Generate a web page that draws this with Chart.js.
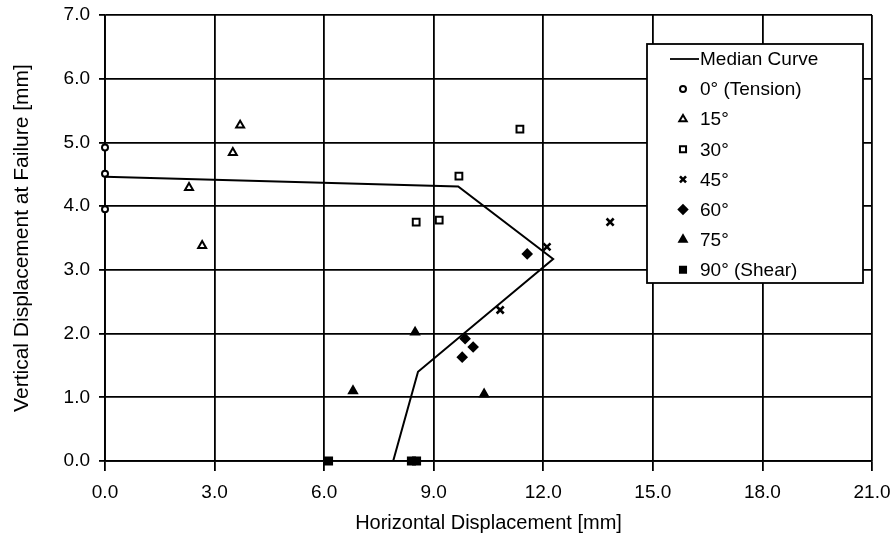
<!DOCTYPE html>
<html>
<head>
<meta charset="utf-8">
<script src="https://cdn.jsdelivr.net/npm/chart.js@4"></script>
<style>
  html, body { margin: 0; padding: 0; background: #fff; }
  #wrap { width: 895px; height: 540px; }
</style>
</head>
<body>
<div id="wrap"><canvas id="dispChart"></canvas></div>
<script>
// values, [mm]
var medianX = [0, 9.67, 12.27, 8.57, 7.89];
var medianY = [4.46, 4.31, 3.17, 1.40, 0];

var deg0X = [0, 0, 0];
var deg0Y = [4.92, 4.51, 3.95];

var deg15X = [3.70, 3.50, 2.30, 2.66];
var deg15Y = [5.27, 4.84, 4.29, 3.38];

var deg30X = [11.36, 9.69, 8.52, 9.15];
var deg30Y = [5.21, 4.47, 3.75, 3.78];

var deg45X = [13.83, 12.10, 10.82];
var deg45Y = [3.75, 3.36, 2.37];

var deg60X = [11.56, 9.86, 10.08, 9.78];
var deg60Y = [3.25, 1.92, 1.79, 1.63];

var deg75X = [6.79, 10.38, 8.49];
var deg75Y = [1.10, 1.05, 2.02];

var deg90X = [6.12, 8.39, 8.53];
var deg90Y = [0, 0, 0];

var xTicks = [0, 3, 6, 9, 12, 15, 18, 21];
var yTicks = [0, 1, 2, 3, 4, 5, 6, 7];

function pts(xs, ys) {
    return xs.map((x, i) => ({ x: x, y: ys[i] }));
}

var FONT = "'Liberation Sans', Arial, Helvetica, sans-serif";

function markerSet(label, xs, ys, style, radius, filled, bw) {
    return {
        label: label,
        data: pts(xs, ys),
        showLine: false,
        clip: false,
        pointStyle: style,
        pointRadius: radius,
        pointHoverRadius: radius,
        pointBackgroundColor: filled ? '#000' : '#fff',
        pointBorderColor: '#000',
        pointBorderWidth: bw || 2
    };
}

// legend drawn inside the plot, like the original figure
var boxLegend = {
    id: 'boxLegend',
    afterDatasetsDraw(chart) {
        var ctx = chart.ctx;
        var left = 647, top = 44, w = 216, h = 239;
        ctx.save();
        ctx.fillStyle = '#fff';
        ctx.fillRect(left, top, w, h);
        ctx.strokeStyle = '#000';
        ctx.lineWidth = 1.8;
        ctx.strokeRect(left, top, w, h);
        ctx.font = '19px ' + FONT;
        ctx.textBaseline = 'middle';
        ctx.textAlign = 'left';
        chart.data.datasets.forEach((ds, i) => {
            var y = 59 + i * 30.1;
            if (ds.showLine) {
                ctx.strokeStyle = '#000';
                ctx.lineWidth = 1.8;
                ctx.beginPath();
                ctx.moveTo(670, y);
                ctx.lineTo(699, y);
                ctx.stroke();
            } else {
                ctx.fillStyle = ds.pointBackgroundColor;
                ctx.strokeStyle = '#000';
                ctx.lineWidth = ds.pointBorderWidth;
                Chart.helpers.drawPoint(ctx, {
                    pointStyle: ds.pointStyle,
                    radius: Math.min(ds.pointRadius, 4.3),
                    borderWidth: ds.pointBorderWidth,
                    rotation: 0
                }, 683, y);
            }
            ctx.fillStyle = '#000';
            ctx.fillText(ds.label, 700, y + 1);
        });
        ctx.restore();
    }
};

var ctx = document.getElementById('dispChart').getContext('2d');

var myChart = new Chart(ctx, {
    type: 'scatter',
    data: {
        datasets: [
            {
                label: 'Median Curve',
                data: pts(medianX, medianY),
                showLine: true,
                borderColor: '#000',
                borderWidth: 2,
                pointRadius: 0,
                fill: false,
                tension: 0
            },
            markerSet('0° (Tension)', deg0X, deg0Y, 'circle', 3, false),
            markerSet('15°', deg15X, deg15Y, 'triangle', 4.6, false),
            markerSet('30°', deg30X, deg30Y, 'rect', 4.8, false),
            markerSet('45°', deg45X, deg45Y, 'crossRot', 5, false, 2.6),
            markerSet('60°', deg60X, deg60Y, 'rectRot', 4.4, true),
            markerSet('75°', deg75X, deg75Y, 'triangle', 4.6, true),
            markerSet('90° (Shear)', deg90X, deg90Y, 'rect', 5, true)
        ]
    },
    options: {
        responsive: true,
        maintainAspectRatio: false,
        animation: false,
        layout: {
            padding: {
                left: 0,
                right: 23,
                top: 15,
                bottom: 0
            }
        },
        plugins: {
            legend: { display: false },
            tooltip: { enabled: false }
        },
        scales: {
            x: {
                type: 'linear',
                min: 0,
                max: 21,
                afterFit: function (scale) {
                    scale.height = 79;
                    scale.paddingLeft = 0;
                    scale.paddingRight = 0;
                },
                afterBuildTicks: function (scale) {
                    scale.ticks = xTicks.map(v => ({ value: v }));
                },
                ticks: {
                    padding: 10,
                    font: { size: 19, family: FONT },
                    color: '#000',
                    maxRotation: 0,
                    callback: v => v.toFixed(1)
                },
                grid: {
                    color: '#000',
                    lineWidth: 1.8,
                    drawTicks: true,
                    tickLength: 10,
                    tickColor: '#000'
                },
                border: { color: '#000', width: 1.8 },
                title: {
                    display: true,
                    text: 'Horizontal Displacement [mm]',
                    color: '#000',
                    font: { size: 20, family: FONT },
                    padding: { top: 0, bottom: 5 }
                }
            },
            y: {
                type: 'linear',
                min: 0,
                max: 7,
                afterFit: function (scale) {
                    scale.width = 105;
                    scale.paddingTop = 0;
                    scale.paddingBottom = 0;
                },
                afterBuildTicks: function (scale) {
                    scale.ticks = yTicks.map(v => ({ value: v }));
                },
                ticks: {
                    padding: 9,
                    font: { size: 19, family: FONT },
                    color: '#000',
                    callback: v => v.toFixed(1)
                },
                grid: {
                    color: '#000',
                    lineWidth: 1.8,
                    drawTicks: true,
                    tickLength: 6,
                    tickColor: '#000'
                },
                border: { color: '#000', width: 1.8 },
                title: {
                    display: true,
                    text: 'Vertical Displacement at Failure [mm]',
                    color: '#000',
                    font: { size: 21, family: FONT },
                    padding: { top: 10, bottom: 0 }
                }
            }
        }
    },
    plugins: [boxLegend]
});
</script>
</body>
</html>
